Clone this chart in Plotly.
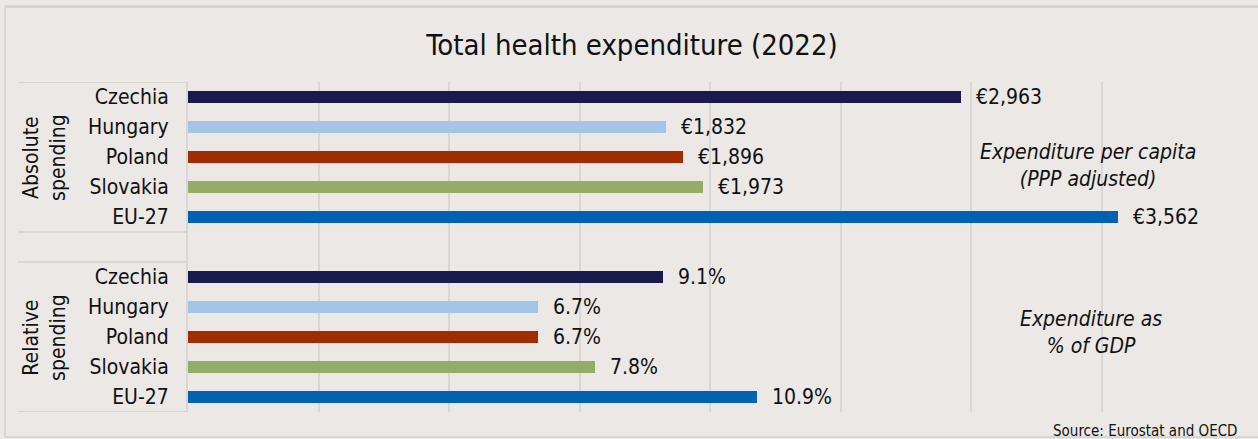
import plotly.graph_objects as go

# ---- data ----
countries = ["Czechia", "Hungary", "Poland", "Slovakia", "EU-27"]
abs_values = [2963, 1832, 1896, 1973, 3562]          # € per capita (PPP)
pct_values = [9.1, 6.7, 6.7, 7.8, 10.9]              # % of GDP
group_labels = ["Absolute<br>spending", "Relative<br>spending"]
note_labels = ["<i>Expenditure per capita</i><br><i>(PPP adjusted)</i>",
               "<i>Expenditure as</i><br><i>% of GDP</i>"]
title_text = "Total health expenditure (2022)"
source_text = "Source: Eurostat and OECD"

colors = ["#1a1a4f", "#a3c6e8", "#a02c00", "#94ac68", "#0061b0"]

FONT = "DejaVu Sans Condensed, Tahoma, DejaVu Sans, sans-serif"
BG = "#ebe8e5"
GRID = "#d9d6d3"
TXT = "#111111"

n = len(countries)
abs_pos = list(range(n))                 # 0..4
rel_pos = [n + 1 + i for i in range(n)]  # 6..10

fig = go.Figure()
fig.add_trace(go.Bar(
    y=abs_pos, x=abs_values, orientation="h", width=0.37,
    marker=dict(color=colors, line=dict(width=0)),
    xaxis="x", yaxis="y", hoverinfo="skip", showlegend=False))
fig.add_trace(go.Bar(
    y=rel_pos, x=pct_values, orientation="h", width=0.37,
    marker=dict(color=colors, line=dict(width=0)),
    xaxis="x2", yaxis="y", hoverinfo="skip", showlegend=False))

ann = []
for v, p in zip(abs_values, abs_pos):
    ann.append(dict(x=v, y=p, xref="x", yref="y", text=f"€{v:,}",
                    xanchor="left", yanchor="middle", xshift=13, showarrow=False,
                    font=dict(family=FONT, size=21, color=TXT)))
for v, p in zip(pct_values, rel_pos):
    ann.append(dict(x=v, y=p, xref="x2", yref="y", text=f"{v:.1f}%",
                    xanchor="left", yanchor="middle", xshift=13, showarrow=False,
                    font=dict(family=FONT, size=21, color=TXT)))

# group labels (rotated)
ann.append(dict(x=-0.138, y=(abs_pos[0] + abs_pos[-1]) / 2, xref="paper", yref="y",
                text=group_labels[0], textangle=-90, showarrow=False,
                xanchor="center", yanchor="middle",
                font=dict(family=FONT, size=21, color=TXT)))
ann.append(dict(x=-0.138, y=(rel_pos[0] + rel_pos[-1]) / 2, xref="paper", yref="y",
                text=group_labels[1], textangle=-90, showarrow=False,
                xanchor="center", yanchor="middle",
                font=dict(family=FONT, size=21, color=TXT)))

# italic notes
ann.append(dict(x=3450, y=2.28, xref="x", yref="y", text=note_labels[0],
                showarrow=False, xanchor="center", yanchor="middle",
                font=dict(family=FONT, size=21, color=TXT)))
ann.append(dict(x=3458, y=7.85, xref="x", yref="y", text=note_labels[1],
                showarrow=False, xanchor="center", yanchor="middle",
                font=dict(family=FONT, size=21, color=TXT)))

# source
ann.append(dict(x=1.0077, y=-0.058, xref="paper", yref="paper", text=source_text,
                showarrow=False, xanchor="right", yanchor="middle",
                font=dict(family=FONT, size=15, color=TXT)))

shapes = []
# category table lines
for yy in [-0.5, n - 0.5, n + 0.5, 2 * n + 0.5]:
    shapes.append(dict(type="line", xref="paper", yref="y", x0=-0.1628, x1=0,
                       y0=yy, y1=yy, line=dict(color=GRID, width=2)))
# outer frame
shapes.append(dict(type="line", xref="paper", yref="paper", x0=-0.1753, x1=1.03,
                   y0=1.2288, y1=1.2288, line=dict(color="#d8d6d4", width=3)))
shapes.append(dict(type="line", xref="paper", yref="paper", x0=-0.1753, x1=-0.1753,
                   y0=1.2288, y1=-0.0758, line=dict(color="#d8d6d4", width=2)))
shapes.append(dict(type="line", xref="paper", yref="paper", x0=-0.1753, x1=1.03,
                   y0=-0.0758, y1=-0.0758, line=dict(color="#d8d6d4", width=2)))

fig.update_layout(
    template="none",
    width=1258, height=439,
    margin=dict(l=188, r=26, t=82, b=27, autoexpand=False),
    paper_bgcolor=BG, plot_bgcolor=BG,
    font=dict(family=FONT, size=21, color=TXT),
    title=dict(text=title_text, x=0.5024, xref="container", xanchor="center",
               y=0.8975, yref="container", yanchor="middle", automargin=False,
               font=dict(family=FONT, size=29, color=TXT)),
    bargap=0, barmode="overlay",
    xaxis=dict(range=[0, 4000], dtick=500, showgrid=True, gridcolor=GRID, gridwidth=2,
               showticklabels=False, zeroline=False, ticks="", fixedrange=True,
               automargin=False, showline=False),
    xaxis2=dict(range=[0, 20], overlaying="x", side="top", showgrid=False,
                showticklabels=False, zeroline=False, ticks="", visible=False,
                automargin=False),
    yaxis=dict(range=[2 * n + 0.5, -0.5], tickvals=abs_pos + rel_pos,
               ticktext=countries + countries, showgrid=False, zeroline=False,
               showline=True, linecolor=GRID, linewidth=2, automargin=False,
               ticks="outside", ticklen=13, tickcolor="rgba(0,0,0,0)",
               tickfont=dict(family=FONT, size=21, color=TXT)),
    annotations=ann, shapes=shapes,
)

fig.write_html("out.html",
               config={"displayModeBar": False, "staticPlot": True},
               post_script="document.body.style.margin='0';document.body.style.padding='0';"
                           "document.body.style.overflow='hidden';")
